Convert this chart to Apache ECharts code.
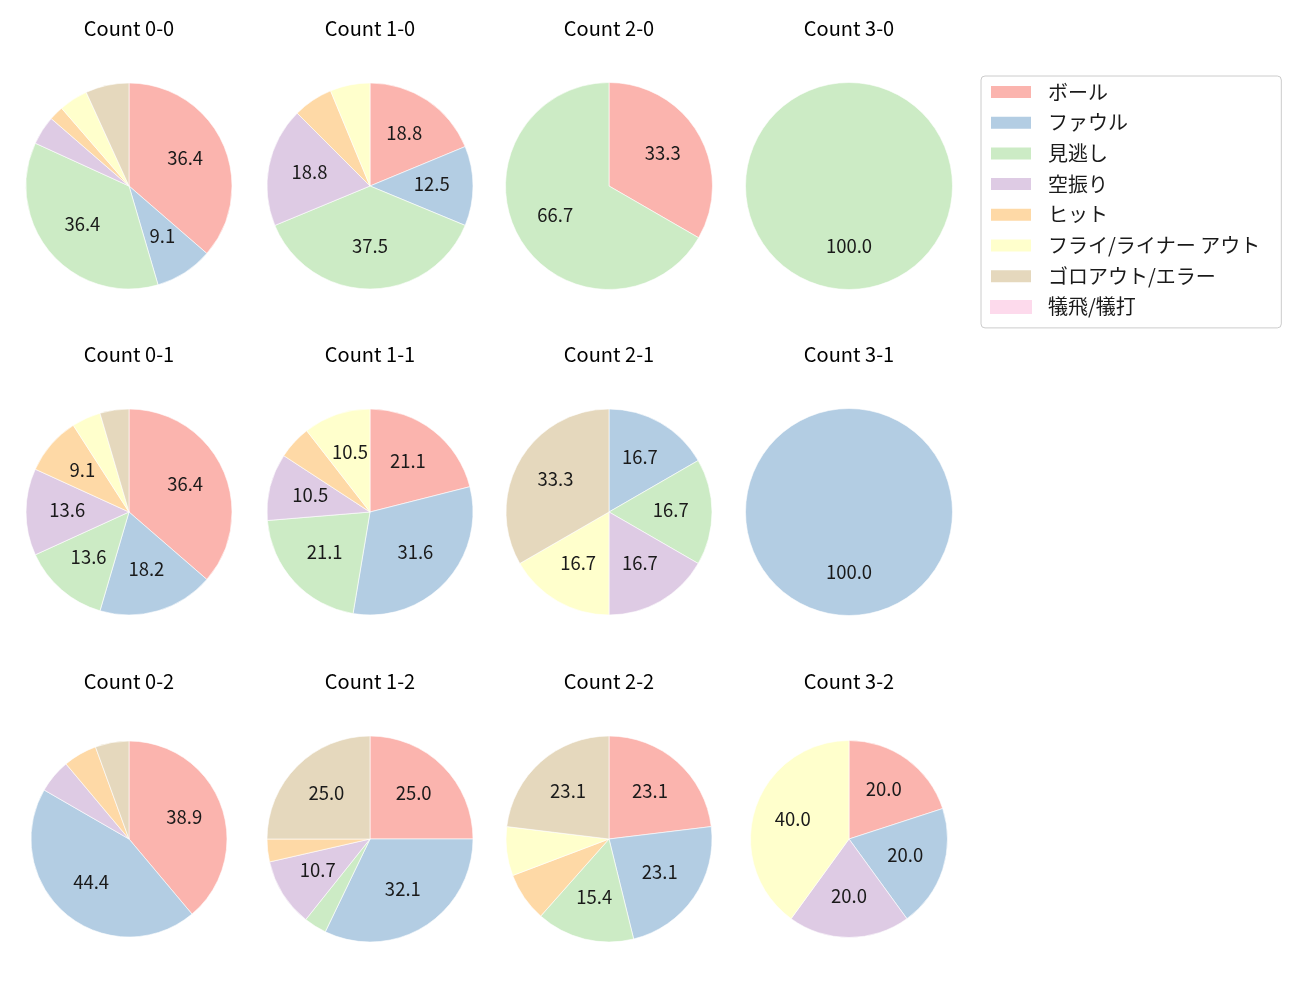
<!DOCTYPE html>
<html>
<head>
<meta charset="utf-8">
<script src="https://cdn.jsdelivr.net/npm/echarts@6/dist/echarts.min.js"></script>
<style>
html,body{margin:0;padding:0;background:#fff;}
#chart{width:1300px;height:1000px;}
</style>
</head>
<body>
<div id="chart"></div>
<script>
// ---- data ----
const categories = ['ボール', 'ファウル', '見逃し', '空振り', 'ヒット', 'フライ/ライナー アウト', 'ゴロアウト/エラー', '犠飛/犠打'];
const colors = ['#fbb4ae', '#b3cde3', '#ccebc5', '#decbe4', '#fed9a6', '#ffffcc', '#e5d8bd', '#fddaec'];
const countTitles = ['Count 0-0', 'Count 1-0', 'Count 2-0', 'Count 3-0',
                     'Count 0-1', 'Count 1-1', 'Count 2-1', 'Count 3-1',
                     'Count 0-2', 'Count 1-2', 'Count 2-2', 'Count 3-2'];
const count00 = [16, 4, 16, 2, 1, 2, 3, 0];
const count10 = [3, 2, 6, 3, 1, 1, 0, 0];
const count20 = [1, 0, 2, 0, 0, 0, 0, 0];
const count30 = [0, 0, 1, 0, 0, 0, 0, 0];
const count01 = [8, 4, 3, 3, 2, 1, 1, 0];
const count11 = [4, 6, 4, 2, 1, 2, 0, 0];
const count21 = [0, 1, 1, 1, 0, 1, 2, 0];
const count31 = [0, 1, 0, 0, 0, 0, 0, 0];
const count02 = [7, 8, 0, 1, 1, 0, 1, 0];
const count12 = [7, 9, 1, 3, 1, 0, 7, 0];
const count22 = [3, 3, 2, 0, 1, 1, 3, 0];
const count32 = [1, 1, 0, 1, 0, 2, 0, 0];
const countValues = [count00, count10, count20, count30,
                     count01, count11, count21, count31,
                     count02, count12, count22, count32];

// ---- layout ----
const colX = [129, 370, 609, 849];
const rowY = [186, 512, 839];
const titleY = [28.5, 354.5, 681.5];
const radii = [103, 103, 103.5, 103.5,
               103, 103, 103, 103.5,
               98, 103, 103, 98.5];
const FONT = '"Noto Sans CJK JP", "Noto Sans", sans-serif';
const LABEL_MIN_PCT = 8;

const series = [];
const labelSeries = [];
const graphics = [];
countValues.forEach((vals, i) => {
  const cx = colX[i % 4], cy = rowY[Math.floor(i / 4)], r = radii[i];
  const total = vals.reduce((a, b) => a + b, 0);
  series.push({
    type: 'pie',
    center: [cx, cy],
    radius: [0, r],
    startAngle: 90,
    clockwise: true,
    silent: true,
    label: {show: false},
    labelLine: {show: false},
    emphasis: {disabled: true},
    data: vals.map((v, k) => ({
      name: categories[k], value: v,
      itemStyle: {color: colors[k], borderColor: '#ffffff', borderWidth: v > 0 ? 0.6 : 0}
    }))
  });
  labelSeries.push({
    type: 'pie',
    center: [cx, cy],
    radius: [r * 0.14, r],
    startAngle: 90,
    clockwise: true,
    silent: true,
    labelLine: {show: false},
    emphasis: {disabled: true},
    itemStyle: {color: 'rgba(0,0,0,0)'},
    label: {
      position: 'inside',
      color: '#1a1a1a',
      fontFamily: FONT,
      fontSize: 18.5,
      offset: [0, -2]
    },
    data: vals.map((v, k) => {
      const pct = v / total * 100;
      return {
        name: categories[k], value: v,
        itemStyle: {color: 'rgba(0,0,0,0)', borderWidth: 0},
        label: {show: pct >= LABEL_MIN_PCT, formatter: pct.toFixed(1)}
      };
    })
  });
  graphics.push({
    type: 'text',
    x: cx, y: titleY[Math.floor(i / 4)],
    silent: true,
    style: {
      text: countTitles[i],
      textAlign: 'center',
      textVerticalAlign: 'middle',
      fill: '#000000',
      font: '20px ' + FONT
    }
  });
});

const chart = echarts.init(document.getElementById('chart'), null, {renderer: 'canvas'});
chart.setOption({
  animation: false,
  backgroundColor: '#ffffff',
  color: colors,
  legend: {
    orient: 'vertical',
    left: 981,
    top: 76,
    data: categories,
    icon: 'rect',
    itemWidth: 42,
    itemHeight: 14,
    itemGap: 10.7,
    selectedMode: false,
    padding: [6, 21, 11, 8],
    borderColor: '#cccccc',
    borderWidth: 1,
    borderRadius: 4,
    textStyle: {
      fontFamily: FONT,
      fontSize: 20,
      color: '#1a1a1a',
      padding: [0, 0, 0, 11]
    }
  },
  graphic: graphics,
  series: series.concat(labelSeries)
});
</script>
</body>
</html>
